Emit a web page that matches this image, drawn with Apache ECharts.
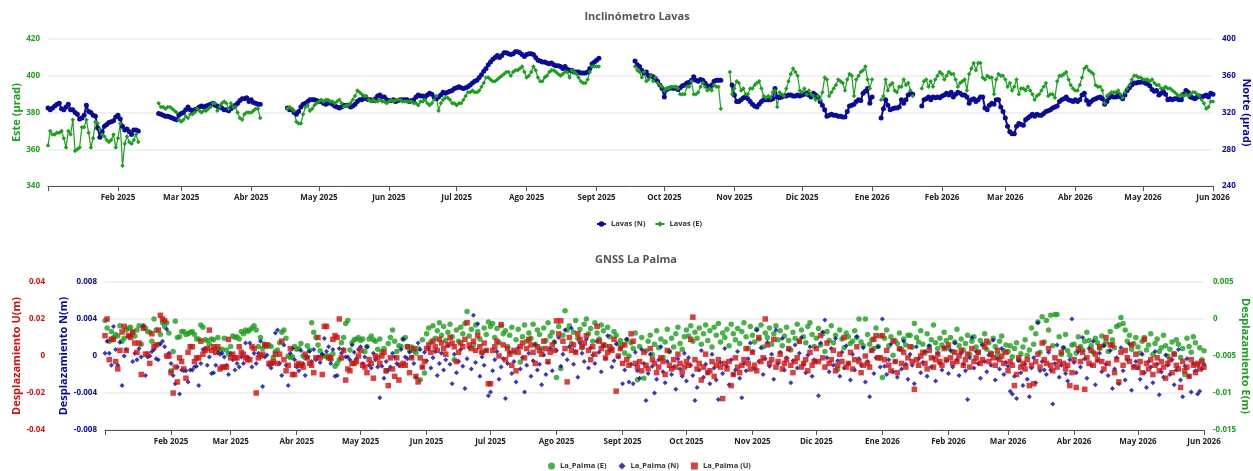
<!DOCTYPE html>
<html><head><meta charset="utf-8">
<script src="https://cdn.jsdelivr.net/npm/echarts@6/dist/echarts.min.js"></script>
<style>html,body{margin:0;padding:0;background:#fff}#c{width:1253px;height:471px}</style>
</head><body><div id="c"></div>
<script>
const _ = null;
const MONTHS = ['Ene','Feb','Mar','Abr','May','Jun','Jul','Ago','Sept','Oct','Nov','Dic'];
// daily values starting 2025-01-01
const lavasN = [
325,323,325,327,329,330,324,323,326,329,323,323,320,318,313,314,317,328,321,320,317,316,303,293,299,305,307,309,310,311,315,317,313,305,301,302,299,296,301,301,300,
_,_,_,_,_,_,_,_,
319,318,317,316,316,315,314,313,312,317,319,320,323,326,323,322,323,324,326,327,326,327,328,329,330,328,327,326,325,323,323,322,324,326,328,330,333,335,335,336,332,334,331,330,329,329,
_,_,_,_,_,_,_,_,_,_,_,
325,323,323,320,318,321,326,329,330,332,334,334,334,333,332,332,330,329,330,331,329,327,326,325,326,328,328,328,326,327,329,332,334,334,337,335,334,334,333,335,338,339,337,337,334,333,333,334,332,333,334,334,334,334,332,333,334,337,339,
338,338,337,339,341,340,337,335,337,339,342,341,342,343,344,346,347,348,347,346,347,348,350,352,354,355,358,361,365,368,372,375,378,380,382,380,382,385,385,384,383,384,386,386,385,383,381,383,384,384,383,380,377,376,375,375,374,373,374,372,371,371,370,368,370,367,366,366,364,364,364,363,363,363,364,368,373,375,377,379,
_,_,_,_,_,_,_,_,_,_,_,_,_,_,_,
376,372,370,366,363,364,360,360,359,357,354,350,346,337,345,346,347,346,347,345,347,349,350,352,353,355,359,355,354,356,355,352,349,348,350,354,355,355,355,
_,_,_,_,
350,339,332,332,334,336,337,335,332,329,327,326,329,332,334,334,334,334,335,346,337,336,337,338,338,339,339,338,338,339,338,339,340,341,339,337,341,339,337,332,328,323,316,317,318,317,317,316,
316,315,315,321,327,328,329,332,334,333,341,343,346,330,337,
_,_,_,
314,324,334,328,323,324,325,325,326,334,330,334,339,341,340,
_,_,_,
327,334,335,337,334,337,336,337,336,338,339,341,339,342,337,340,342,341,339,339,
337,330,334,335,332,334,337,337,325,323,328,330,329,334,334,326,321,314,305,299,
297,297,305,308,307,306,312,314,316,318,316,318,317,317,319,321,322,323,325,326,
327,332,334,335,337,334,333,332,334,332,334,339,341,333,329,332,334,335,336,337,
335,329,332,336,338,337,337,339,337,335,339,344,347,350,352,352,353,353,354,352,
351,349,345,343,344,339,341,343,340,334,335,334,335,335,334,334,340,344,342,337,
336,335,337,338,337,338,339,337,341,340
];
const lavasE = [
362,370,368,368,369,369,370,366,361,370,368,376,359,360,361,372,372,376,369,361,366,375,374,371,368,367,365,364,365,368,361,366,374,351,363,367,364,363,365,368,364,
_,_,_,_,_,_,_,_,
385,383,383,382,383,383,382,381,380,376,375,376,378,377,379,379,380,382,381,380,381,381,382,383,385,385,381,383,385,386,385,382,385,383,383,380,377,376,379,380,380,380,381,382,382,377,
_,_,_,_,_,_,_,_,_,_,_,
382,383,382,381,375,374,374,379,383,384,381,382,384,385,386,387,386,387,387,386,386,385,386,387,385,383,384,384,385,387,389,392,391,390,389,389,387,386,387,386,386,387,386,386,385,386,387,386,387,387,387,386,386,386,386,386,385,385,384,
386,386,387,385,384,385,387,389,381,385,387,388,388,387,385,385,384,385,385,387,389,391,391,392,391,391,392,394,396,399,399,398,397,397,398,399,400,401,402,402,400,402,403,403,404,405,402,399,400,402,405,403,399,397,397,399,400,402,403,403,402,401,400,401,402,402,399,403,402,401,399,397,396,396,398,402,405,405,405,405,
_,_,_,_,_,_,_,_,_,_,_,_,_,_,_,
405,403,402,399,402,397,398,400,397,399,396,395,394,392,393,393,394,394,394,393,390,390,390,394,394,397,390,390,391,394,396,394,392,393,392,395,394,394,382,
_,_,_,
402,390,393,397,396,392,393,390,390,393,393,395,396,397,393,389,388,389,388,391,392,383,391,390,389,393,397,401,404,402,400,392,391,393,390,392,390,389,387,389,387,391,399,398,389,391,393,395,398,
397,396,392,398,401,400,389,398,400,402,403,405,398,393,398,
_,_,_,
387,389,398,392,395,396,392,391,394,394,398,395,396,392,389,
_,_,_,
393,397,398,394,397,394,398,400,402,401,398,400,402,401,401,398,394,396,397,398,
392,401,404,407,403,407,407,399,398,400,399,399,390,398,401,400,400,398,394,396,
392,394,398,390,393,393,392,394,392,390,387,389,390,392,394,396,389,390,390,388,
397,400,400,401,402,398,395,393,392,392,395,399,404,405,403,402,401,395,394,394,
392,385,389,390,391,391,391,392,390,388,391,393,395,398,400,400,399,399,398,398,
398,397,398,396,395,395,393,393,394,393,393,392,391,390,389,390,389,390,389,390,
391,391,390,389,387,385,382,383,386,386
];
// GNSS La Palma, daily values in millimetres starting 2025-01-01
const gnssE_mm = [
-0.2,-1.2,-3.0,-1.7,-2.5,-2.1,-2.3,-0.9,-3.0,-2.6,-1.5,-1.2,-1.1,-1.8,-2.3,-1.5,-0.9,-3.4,-0.9,-1.2,
-1.7,-1.8,-3.0,0.0,-1.5,-3.4,-2.1,-0.5,-1.0,-0.5,-1.9,-7.0,-4.4,-0.3,-2.5,-2.4,-1.7,-1.7,-2.1,-2.0,
-1.8,-1.7,-2.1,-2.7,-2.7,-0.8,-1.1,-2.8,-2.9,-3.4,-2.7,-2.8,-4.0,-2.5,-4.2,-4.1,-2.6,-4.2,-4.7,-3.7,
-2.3,-2.5,-2.4,-2.7,-1.7,-2.0,-1.5,-1.7,-1.5,-1.2,-0.9,-1.5,-3.7,-2.5,-4.0,-3.4,-3.7,-3.5,-3.7,
-5.2,-4.4,-4.2,-3.2,-1.8,-1.5,-2.6,-5.0,-5.2,-5.1,-3.7,-4.1,-4.0,-3.3,-5.0,-5.2,-3.6,-4.2,
-0.5,-1.8,-2.5,-3.5,-4.3,-4.9,-5.0,-5.1,-5.0,-5.5,-4.7,-6.4,-6.0,-5.5,-3.2,-2.5,-0.6,-0.2,-4.2,
-3.2,-2.8,-2.7,-2.5,-2.9,-2.7,-4.4,-3.7,-2.7,-2.3,-2.8,-3.0,-4.1,-2.7,-4.4,-4.0,-7.0,-3.3,
-2.5,-1.5,-3.0,-4.4,-3.6,-3.7,-2.7,-2.5,-3.7,-4.2,-3.8,-4.3,-4.6,-4.0,-8.2,
-2.8,-7.3,
-2.0,-1.2,-3.1,-0.9,-2.6,-1.6,-0.5,-2.2,-1.0,-2.9,-1.8,-0.7,-2.4,-5.5,-1.5,-3.0,-1.1,-2.0,-0.6,1.0,-2.3,-1.4,-3.5,-0.8,-1.7,-2.7,-4.5,-1.2,-2.1,-0.4,
-1.0,-0.6,-2.5,-1.3,-3.2,-0.9,-2.0,-1.6,-3.7,-2.2,-1.1,-4.5,-2.8,-1.4,-5.8,-2.4,-0.8,-3.0,-1.9,-2.6,-0.7,-3.4,-1.5,-2.1,-4.0,-1.2,-2.9,-0.5,-2.3,-1.8,-3.1,
-7.9,-1.0,-6.7,-2.2,1.1,-1.5,-0.9,-3.3,-1.8,-0.2,-2.6,-1.4,-3.9,-0.7,0.0,-2.0,-1.3,-3.0,-0.5,-1.9,-2.7,-0.8,-1.6,-3.6,-1.1,-2.4,-4.0,-1.7,-2.2,-3.3,-2.9,
-3.5,-4.6,-2.8,-5.0,-3.2,-4.0,-1.9,-8.2,-3.7,-2.5,-8.0,-4.3,-3.0,-2.2,-4.8,-3.4,-1.6,-3.9,-2.7,-5.2,-3.1,-1.4,-4.4,-2.6,-3.8,-2.0,-1.1,-3.3,-4.1,-2.4,
-1.5,-2.3,-0.9,-3.0,-1.8,-2.6,-1.2,-3.4,-2.0,-0.8,-2.9,-1.6,-3.8,-1.1,-2.2,-0.6,-3.1,-1.9,-2.5,-1.4,-3.6,-0.7,-2.0,-2.8,-1.3,-3.3,-1.7,-0.5,-2.4,-4.0,-1.0,
-2.2,-3.1,-1.4,-2.7,-0.8,-3.8,-1.9,-2.5,-1.2,-3.4,-2.0,-0.9,-2.8,-1.6,-3.6,-2.3,-1.1,-2.9,-4.2,-1.8,-2.6,-0.7,-3.0,-1.5,-2.4,-3.2,-1.0,-0.5,-2.1,-3.7,
-2.6,-1.3,-3.5,-2.0,-4.4,-1.7,-2.9,-0.9,-3.2,-2.2,-6.8,-1.5,-2.7,-3.9,-1.9,-2.4,-3.3,-3.0,-1.6,-2.5,0.0,-3.1,-3.6,0.0,-2.1,-3.4,-2.8,-4.0,-1.2,-3.7,-2.3,
-7.9,-2.6,-1.5,-3.6,-2.4,-4.9,-2.9,-3.3,-1.9,-4.1,-2.7,-3.5,-2.2,-2.2,-3.8,-0.6,-2.5,-3.1,-1.6,-3.4,-4.6,-2.0,-3.7,-2.8,-0.8,-3.2,-4.0,-2.6,-3.5,-1.8,-2.9,
-3.9,-2.5,-4.4,-3.1,-1.4,-3.6,-2.7,-4.2,-3.3,-2.2,-4.8,-3.0,-2.4,-3.8,-4.5,-2.9,-3.4,-2.0,-4.1,-3.2,-4.6,-2.6,-3.7,-4.9,-3.0,-2.3,-4.3,-3.5,
-4.4,-3.6,-5.1,-4.0,-3.2,-5.5,-4.7,-3.8,-2.8,-4.9,-4.2,-1.2,-3.4,-2.0,-0.4,-4.5,0.3,-3.1,-0.2,-1.5,0.5,-3.6,0.6,0.6,-2.4,-4.8,-3.9,-2.1,-4.3,-4.9,-3.5,
-3.4,-4.6,-2.4,-3.7,-4.2,-3.0,-1.8,-2.9,-3.6,-4.5,-2.6,-3.2,-4.0,-2.3,-3.5,-3.1,-4.4,-1.7,-2.8,-3.9,-1.0,-0.8,0.2,-0.6,-1.5,-3.0,-2.2,-4.1,-3.3,-2.5,
-3.8,-4.6,-3.0,-2.5,-4.2,-3.5,-2.0,-4.8,-3.3,-2.7,-4.4,-3.9,-2.2,-3.6,-5.0,-4.1,-3.1,-4.7,-2.8,-3.4,-5.2,-4.0,-7.5,-2.6,-3.7,-4.5,-2.4,-3.2,-6.2,-3.9,-5.5,-4.3
];
const gnssN_mm = [
0.3,1.6,0.3,-1.0,3.2,0.7,-1.0,1.5,-3.2,0,0.7,2.1,2.2,-0.6,0.3,-0.4,0.8,-0.1,3.2,-2.1,
-0.1,0,0.5,0.7,-0.3,-0.4,1.3,1.6,1.0,2.9,0.3,-0.8,-2.1,-3.0,-1.2,-4.1,-1.5,-1.6,
-1.6,-2.8,-1.5,-1.5,-1.2,-1.1,-3.2,-0.8,0.7,0.8,-1.0,-0.1,-1.9,-1.8,-1.0,0.4,0.2,0.3,
-0.1,-1.0,-2.0,0.3,-0.4,-1.5,-0.8,-1.2,-0.1,-0.8,1.4,-0.1,1.4,-1.2,0.3,-0.8,0.3,1.6,
-3.3,-0.1,0.1,-1.0,-1.3,-0.8,2.5,2.8,-0.8,-2.1,1.2,-1.0,-3.2,0.3,0.8,-0.4,-1.2,-1.6,
0.6,-0.8,-2.1,-0.1,0.5,-0.6,0.7,-0.4,-0.1,-0.7,0.2,1.9,0.5,1.0,-0.8,0.7,-2.2,-2.1,
0.8,0.3,0.7,-0.1,-0.1,-0.4,1.2,0.4,-0.3,0.7,1.0,-0.8,-0.1,1.0,-1.0,-1.3,0.3,-0.4,-1.2,-4.5,
-1.1,-2.4,-0.6,-1.5,-1.2,0.3,-0.1,-0.8,-1.0,0.7,1.8,-0.1,-0.3,0.4,-0.1,-0.8,-2.3,1.4,0.7,
-1.2,0.4,
-0.5,0.8,-1.3,-0.2,0.5,-2.1,-0.8,0.3,-1.5,-0.4,1.1,-0.9,-3.0,0.2,-1.8,-0.6,0.7,-1.1,-3.5,-0.3,0.9,-1.4,4.4,-0.7,3.5,-2.2,-0.1,-1.0,0.6,-4.3,
-3.9,-1.6,-0.4,0.5,-2.5,-1.2,-0.3,-4.6,-0.8,0.4,-1.9,-0.6,-2.8,0.9,-1.4,-0.2,-3.9,-1.0,0.3,-2.2,-0.5,1.2,-1.5,-0.9,-3.1,0.1,-2.0,-0.7,0.8,-1.6,1.5,
0.6,2.0,-1.1,0.2,2.8,-0.4,1.0,3.0,-0.9,0.5,-2.3,1.4,0.3,-0.6,1.8,-1.3,0.9,0.1,-0.8,1.6,0.4,-1.7,1.1,-0.3,2.2,0.6,-1.2,-0.5,1.3,-0.1,0.8,
-3.0,-1.5,1.8,-2.8,-0.9,-3.0,0.4,-1.6,-2.4,0.7,-0.8,-4.8,-1.9,0.2,-1.1,-4.0,-2.5,-0.4,1.0,-1.7,-2.9,-0.6,0.5,-2.0,-1.2,-3.6,-0.3,-1.4,-2.2,0.3,
-2.7,-0.2,-1.0,-2.1,-4.8,-3.4,-1.5,0.6,-2.3,-0.9,-1.8,-3.0,0.2,-1.3,-2.6,-4.7,-0.7,-1.9,0.8,-1.1,-3.1,-0.4,-2.0,-1.5,0.5,-2.4,-4.5,-0.8,-1.6,-0.3,1.4,
0.5,-1.4,2.8,-0.6,0.9,-2.0,-0.3,1.5,-1.1,0.2,-2.5,2.8,-0.8,0.4,1.9,-1.5,-0.2,0.7,-2.9,-0.5,1.2,-1.3,0.3,2.0,-0.9,-1.8,0.1,1.0,-2.2,-0.4,
-0.6,-4.3,1.4,2.6,3.9,-0.2,-1.7,0.8,-1.0,1.9,-0.5,-2.2,0.4,-1.3,1.1,-0.8,-2.6,0.2,-1.5,2.1,-0.3,-1.0,0.9,-2.8,-0.6,-4.4,0.6,-1.9,-0.2,1.0,-1.2,
4.0,-1.1,-2.0,-0.4,1.3,-1.7,-0.6,-2.3,0.7,-1.4,1.6,-0.9,-2.5,0.2,-1.0,-3.0,1.0,-0.3,-1.8,-0.7,0.5,-2.2,1.1,-1.2,-0.2,-2.7,0.3,-0.8,-1.5,0.9,-0.5,
-1.9,0.6,-1.2,1.4,-0.4,-2.1,0.3,-0.9,-1.6,-4.7,-0.2,2.0,-1.3,0.5,-0.8,-2.4,1.2,-0.6,-1.7,0.1,-1.0,1.7,-2.6,-0.3,-1.4,0.8,-2.0,-0.7,
-1.1,-3.8,-4.1,-2.2,-4.6,-0.5,-1.8,-3.2,-0.9,-2.5,-4.4,-1.3,-0.2,-2.9,3.6,-1.6,-0.6,-1.5,-2.0,0.4,-1.5,-5.2,-0.8,1.2,-2.3,-1.0,0.9,-1.9,-2.7,-0.4,4.0,
-0.7,-1.8,0.5,-1.2,2.0,-0.3,-2.4,0.8,-1.0,1.6,-3.1,-0.5,0.3,-1.7,1.1,-0.9,-2.1,0.6,-3.5,-1.4,-0.2,-3.0,0.9,-1.6,-2.6,-0.4,1.3,-3.7,-1.1,-0.6,
-1.3,-2.5,0.2,-1.8,-3.4,-0.6,-1.2,-2.9,0.5,-0.9,-4.2,-1.7,-2.3,0.1,-1.0,-2.0,-0.4,-3.1,-1.5,0.7,-2.6,-4.4,-1.1,-0.3,-2.2,-3.9,-0.8,-1.6,-4.1,-3.8,-1.4,-0.9
];
const gnssU_mm = [
11,20,-2,9,9,-3,-7,3,13,16,3,11,10,13,7,2,7,-10,15,1,1,-4,12,5,6,14,22,20,19,0,
0,-9,-20,-6,-14,-1,-3,-7,-12,2,5,5,-3,-1,-1,8,1,3,4,14,3,5,2,5,-7,-6,-6,-6,9,-1,
1,-1,-1,5,2,1,-1,-2,-2,5,4,-20,-1,0,1,6,6,-4,-4,-3,
1,-4,1,8,-2,-8,-5,4,-10,-10,-5,-4,-5,-6,1,-1,-4,-5,-9,-1,10,-1,-10,16,16,-1,-1,
9,11,10,20,-1,3,-13,-7,-8,-4,-4,-3,0,3,-5,-6,-9,-2,-4,-12,0,-1,-4,0,2,-8,-16,-1,-7,-11,
-1,-13,-5,-4,-5,5,-9,-1,4,-11,-14,-1,
-6,-3,
4,6,2,8,5,3,9,7,4,1,6,10,7,5,-3,2,7,5,9,18,6,4,8,3,11,5,2,7,3,-15,
-15,3,5,8,0,17,6,-2,4,1,-5,3,-8,2,5,7,-1,4,9,6,2,-4,5,3,1,8,4,-3,2,6,3,
19,12,19,8,4,-14,10,3,6,2,12,9,5,7,11,3,-2,5,1,16,8,4,6,-1,2,5,3,9,-19,0,4,
-4,6,-2,-5,12,8,-4,-6,-3,-8,2,-5,-7,4,-2,-4,-9,-6,-1,-3,-10,3,-5,-7,-2,-6,1,-4,-9,-6,
-3,-5,9,21,-2,-7,-4,-13,-6,1,-9,-8,-3,-11,-5,-2,-6,-23,-4,-7,-3,-16,-10,-1,-6,-9,-5,-2,4,-4,-7,
2,-5,-8,10,-3,-1,20,6,-4,-2,9,-6,-3,1,-7,-4,-2,4,-5,-9,-3,-1,8,-6,-4,-2,-8,2,-5,-3,
4,-3,11,-1,-6,7,-4,-2,3,-8,-5,1,-3,10,-6,-4,2,-7,-2,5,-3,-9,-5,0,-4,-6,3,9,11,-1,-1,
11,-2,3,-5,-8,8,-3,-9,4,-4,2,-6,-1,5,-3,-18,-2,-5,0,2,-4,-7,3,-1,-6,-2,1,-3,-5,4,-2,
6,-1,-4,2,-3,0,3,-5,-2,1,-6,4,-3,-1,2,-4,-2,5,8,-3,1,-1,-5,3,-2,0,-4,2,
-8,-3,-5,-16,-10,-1,-6,-4,-7,-2,-16,-5,-15,-3,1,-6,7,-2,-4,4,-5,-8,-1,-6,-3,2,-4,-7,-5,-16,-9,
-2,-17,4,-3,2,-18,-1,-4,3,-5,1,-2,5,-3,-7,10,-4,6,6,-9,-2,-14,2,-5,3,-1,-3,6,-6,1,
-6,-3,-9,9,-4,-7,-2,-10,-5,-1,-8,-3,-6,-12,-4,-2,-9,1,-5,-7,-17,-3,-8,-6,-11,-2,-5,-9,-4,-7,-3,-6
];

const day = i => new Date(2025, 0, 1 + i).getTime();
const xMin = new Date(2025, 0, 1).getTime();
const xMax = new Date(2026, 5, 1).getTime();
const toPairs = (arr, k) => arr.map((v, i) => [day(i), v == null ? null : +(v * k).toFixed(6)]);
const toPts = (arr, k) => arr.map((v, i) => v == null ? null : [day(i), +(v * k).toFixed(6)]).filter(Boolean);

const NAVY = '#0a0a96', GREEN = '#1e9e1e', RED = '#cc1313';
const FONT = 'Open Sans';
const lbl = c => ({ color: c, fontSize: 8, fontWeight: 'bold', fontFamily: FONT });
const nameStyle = c => ({ color: c, fontSize: 11, fontWeight: 'bold', fontFamily: FONT });
const grid = { lineStyle: { color: '#ececec', width: 1.5 } };
const DAYMS = 86400000;
const xAx = (gi) => ({
  type: 'time', gridIndex: gi, min: xMin, max: xMax,
  minInterval: 28 * DAYMS, maxInterval: 31 * DAYMS,
  axisLine: { onZero: false, lineStyle: { color: '#555', width: 1 } },
  axisTick: { show: true, length: 5, lineStyle: { color: '#555' } },
  splitLine: { show: false },
  axisLabel: Object.assign(lbl('#222'), { margin: 8, showMinLabel: false, showMaxLabel: true, hideOverlap: false,
    alignMinLabel: 'center', alignMaxLabel: 'center',
    formatter: v => { if (v <= xMin + DAYMS) return ''; const d = new Date(v); return MONTHS[d.getMonth()] + ' ' + d.getFullYear(); } })
});
const yName = (text, rot, gap, color) => ({ name: text, nameLocation: 'middle', nameRotate: rot, nameGap: gap,
  nameMoveOverlap: false, nameTextStyle: nameStyle(color) });

const chart = echarts.init(document.getElementById('c'), null, { renderer: 'canvas' });
chart.setOption({
  animation: false,
  backgroundColor: '#fff',
  title: [
    { text: 'Inclinómetro Lavas', left: 632, top: 6, textAlign: 'center', textStyle: { fontSize: 11, fontWeight: 'bold', color: '#555', fontFamily: FONT } },
    { text: 'GNSS La Palma', left: 631, top: 249, textAlign: 'center', textStyle: { fontSize: 11, fontWeight: 'bold', color: '#555', fontFamily: FONT } }
  ],
  legend: [
    { data: ['Lavas (N)', 'Lavas (E)'], left: 591, top: 215, itemWidth: 9, itemHeight: 7, itemGap: 9,
      textStyle: { fontSize: 7.5, fontWeight: 'bold', color: '#333', fontFamily: FONT } },
    { data: [{ name: 'La_Palma (E)', icon: 'circle' }, { name: 'La_Palma (N)', icon: 'diamond' }, { name: 'La_Palma (U)', icon: 'rect' }],
      left: 543, top: 457, itemWidth: 7, itemHeight: 7, itemGap: 12,
      textStyle: { fontSize: 7.5, fontWeight: 'bold', color: '#333', fontFamily: FONT } }
  ],
  grid: [
    { left: 48, right: 40, top: 39, height: 147, containLabel: false, outerBoundsMode: 'none' },
    { left: 105, right: 49, top: 282, height: 148, containLabel: false, outerBoundsMode: 'none' }
  ],
  xAxis: [xAx(0), xAx(1)],
  yAxis: [
    Object.assign({ type: 'value', gridIndex: 0, position: 'left', min: 340, max: 420, interval: 20,
      axisLine: { show: false }, axisTick: { show: false }, axisLabel: Object.assign(lbl(GREEN), { margin: 8 }), splitLine: grid },
      yName('Este (µrad)', 90, 26, GREEN)),
    Object.assign({ type: 'value', gridIndex: 0, position: 'right', min: 240, max: 400, interval: 40,
      axisLine: { show: false }, axisTick: { show: false }, axisLabel: Object.assign(lbl(NAVY), { margin: 9 }), splitLine: { show: false } },
      yName('Norte (µrad)', -90, 28, NAVY)),
    Object.assign({ type: 'value', gridIndex: 1, position: 'left', min: -0.008, max: 0.008, interval: 0.004,
      axisLine: { show: false }, axisTick: { show: false }, axisLabel: Object.assign(lbl(NAVY), { margin: 8 }), splitLine: grid },
      yName('Desplazamiento N(m)', 90, 36, NAVY)),
    Object.assign({ type: 'value', gridIndex: 1, position: 'left', offset: 52, min: -0.04, max: 0.04, interval: 0.02,
      axisLine: { show: false }, axisTick: { show: false }, axisLabel: Object.assign(lbl(RED), { margin: 8 }), splitLine: { show: false } },
      yName('Desplazamiento U(m)', 90, 31, RED)),
    Object.assign({ type: 'value', gridIndex: 1, position: 'right', min: -0.015, max: 0.005, interval: 0.005,
      axisLine: { show: false }, axisTick: { show: false },
      axisLabel: Object.assign(lbl(GREEN), { margin: 9, formatter: v => String(+v.toFixed(3)) }), splitLine: { show: false } },
      yName('Desplazamiento E(m)', -90, 36, GREEN))
  ],
  series: [
    { name: 'Lavas (N)', type: 'line', xAxisIndex: 0, yAxisIndex: 1, data: toPairs(lavasN, 1),
      symbol: 'circle', symbolSize: 5, showAllSymbol: true, connectNulls: false,
      itemStyle: { color: NAVY }, lineStyle: { color: NAVY, width: 2 } },
    { name: 'Lavas (E)', type: 'line', xAxisIndex: 0, yAxisIndex: 0, data: toPairs(lavasE, 1),
      symbol: 'diamond', symbolSize: 4.5, showAllSymbol: true, connectNulls: false,
      itemStyle: { color: GREEN }, lineStyle: { color: GREEN, width: 1.2 } },
    { name: 'La_Palma (E)', type: 'scatter', xAxisIndex: 1, yAxisIndex: 4, data: toPts(gnssE_mm, 0.001),
      symbol: 'circle', symbolSize: 5.5, itemStyle: { color: GREEN } },
    { name: 'La_Palma (N)', type: 'scatter', xAxisIndex: 1, yAxisIndex: 2, data: toPts(gnssN_mm, 0.001),
      symbol: 'diamond', symbolSize: 5, itemStyle: { color: NAVY } },
    { name: 'La_Palma (U)', type: 'scatter', xAxisIndex: 1, yAxisIndex: 3, data: toPts(gnssU_mm, 0.001),
      symbol: 'rect', symbolSize: 5.5, itemStyle: { color: RED } }
  ]
});
</script></body></html>
